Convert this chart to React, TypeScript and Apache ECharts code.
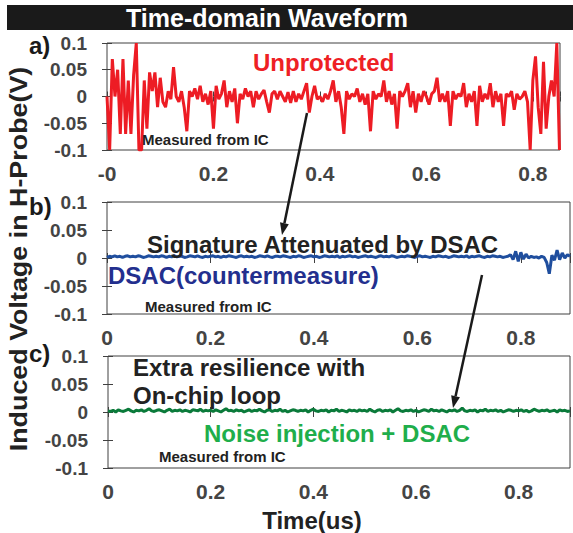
import React, { useEffect, useRef } from 'react';
import * as echarts from 'echarts';

// ---------- data ----------
// Panel a) Unprotected, sampled every 0.005 us (V)
const stepA = 0.005;
const voltA = [
  0.0, -0.1, 0.07, 0.0, 0.05, -0.07, 0.07, -0.07, 0.03, -0.07,
  0.04, 0.1, -0.1, -0.1, 0.03, -0.06, 0.045, 0.01, 0.045, -0.02,
  0.035, -0.01, -0.02, 0.01, -0.005, 0.055, 0.0, -0.01, 0.01, -0.02,
  -0.065, 0.01, 0.0, 0.015, -0.005, 0.02, -0.01, 0.005, -0.015, 0.01,
  -0.06, 0.02, -0.005, 0.005, 0.03, -0.02, 0.01, -0.01, 0.015, -0.05,
  0.005, -0.005, 0.015, 0.0, 0.01, -0.02, 0.01, -0.005, 0.005, 0.012,
  -0.01, -0.03, 0.005, 0.01, -0.005, 0.01, 0.0, -0.01, 0.008, -0.012,
  0.01, -0.01, 0.005, -0.005, 0.01, 0.025, -0.03, 0.0, 0.02, -0.005,
  0.0, -0.01, 0.005, -0.005, 0.01, 0.03, -0.01, 0.01, -0.02, -0.07,
  0.01, -0.005, 0.005, 0.0, 0.015, -0.01, 0.005, -0.015, 0.005, -0.065,
  0.01, -0.005, 0.005, 0.0, 0.03, -0.01, 0.01, -0.015, 0.005, -0.06,
  0.01, 0.0, 0.01, 0.025, -0.02, 0.01, -0.03, 0.005, -0.01, 0.01,
  0.0, -0.015, 0.005, 0.01, 0.035, -0.01, 0.005, -0.01, 0.01, -0.055,
  0.01, -0.005, 0.005, 0.0, 0.025, -0.02, 0.005, -0.01, 0.01, -0.055,
  0.02, -0.01, 0.005, -0.005, 0.025, -0.02, 0.01, -0.01, 0.005, -0.055,
  0.005, 0.0, 0.01, -0.025, 0.005, -0.005, 0.0, 0.01, -0.01, -0.1,
  0.03, 0.075, -0.02, -0.07, 0.065, -0.06, 0.0, 0.03, 0.0, 0.1,
  -0.1,
];

// Panel b) DSAC, sampled every 0.005 us (mV)
const stepB = 0.005;
const voltB_mV = [
  1, 3, 2, 4, 2, 3, 1, 3, 4, 2, 3, 2, 4, 3, 1, 2, 4, 3, 2, 3,
  2, 4, 3, 1, 3, 2, 4, 2, 3, 3, 1, 2, 4, 3, 2, 4, 2, 1, 3, 2,
  3, 4, 2, 3, 1, 3, 2, 4, 3, 2, 1, 3, 4, 2, 3, 2, 3, 1, 2, 4,
  3, 2, 4, 2, 1, 3, 3, 2, 4, 3, 2, 1, 3, 2, 4, 3, 1, 2, 3, 4,
  2, 3, 1, 2, 4, 3, 2, 3, 2, 4, 1, 3, 2, 3, 4, 2, 3, 1, 2, 3,
  4, 2, 3, 2, 1, 3, 4, 2, 3, 2, 4, 3, 1, 2, 3, 2, 4, 3, 2, 1,
  3, 4, 2, 3, 2, 1, 3, 2, 4, 3, 2, 3, 1, 2, 4, 3, 2, 3, 2, 4,
  1, 3, 2, 3, 4, 2, 1, 3, 2, 4, 3, 2, 3, 1, 2, 3,
  6, -3, 12, -6, 10, -2, 7, 0, 3, 1, 2, 0, 3, 1, -8, -28, 5, -4, 14, -3,
  9, 0, 6, 3,
];

// Panel c) Noise injection + DSAC, sampled every 0.005 us (mV)
const stepC = 0.005;
const voltC_mV = [
  2, 1, 3, 0, 4, 2, 1, 3, 5, 2, 0, 3, 2, 4, 1, 3, 6, 2, 1, 3,
  4, 2, 0, 3, 5, 1, 3, 2, 4, 1, 3, 2, 0, 4, 3, 2, 5, 1, 3, 2,
  3, 1, 4, 2, 0, 3, 6, 2, 3, 1, 4, 2, 3, 0, 2, 4, 1, 3, 2, 5,
  2, 0, 3, 4, 1, 3, 2, 5, 1, 3, 0, 2, 4, 3, 1, 3, 2, 4, 0, 3,
  5, 2, 1, 3, 2, 4, 0, 3, 2, 5, 1, 3, 2, 0, 4, 2, 3, 1, 4, 2,
  3, 1, 5, 2, 0, 3, 4, 1, 3, 2, 4, 0, 3, 6, 2, 1, 3, 2, 4, 1,
  3, 0, 2, 4, 3, 1, 5, 2, 3, 1, 4, 2, 0, 3, 2, 4, 1, 3, 7, 2,
  1, 3, 2, 4, 0, 3, 2, 5, 1, 3, 2, 4, 1, 3, 0, 2, 4, 3, 1, 3,
  2, 4, 1, 3, 0, 2, 5, 3, 1, 3, 2, 4, 1, 2, 3, 0, 4, 2, 3, 1, 2,
];

const xMaxes = [0.851, 0.895, 0.9];
const xInterval = 0.2;
const yMin = -0.1;
const yMax = 0.1;
const yInterval = 0.05;

const titleText = 'Time-domain Waveform';
const xTitle = 'Time(us)';
const yTitle = 'Induced Voltage in H-Probe(V)';

// ---------- styling ----------
const FONT = "'Liberation Sans', Arial, Helvetica, sans-serif";
const AXIS_COLOR = '#404040';
const LABEL_COLOR = '#444444';
const INK = '#222222';
const lineColors = ['#ed1c24', '#1f4e9e', '#0a7a3a'];

const gridBoxes = [
  { left: 107, top: 43, width: 453, height: 107 },
  { left: 107, top: 202, width: 465, height: 112 },
  { left: 108, top: 356, width: 464, height: 112 },
];

function pairs(values: number[], step: number, scale: number) {
  return values.map((v, i) => [Number((i * step).toFixed(4)), v * scale]);
}

function arrow(x1: number, y1: number, x2: number, y2: number) {
  const dx = x2 - x1;
  const dy = y2 - y1;
  const len = Math.sqrt(dx * dx + dy * dy);
  const ux = dx / len;
  const uy = dy / len;
  const px = -uy;
  const py = ux;
  const headL = 12;
  const headW = 4.5;
  const bx = x2 - ux * headL;
  const by = y2 - uy * headL;
  return [
    {
      type: 'line',
      shape: { x1, y1, x2: bx, y2: by },
      style: { stroke: '#1a1a1a', lineWidth: 2.5 },
      z: 10,
    },
    {
      type: 'polygon',
      shape: {
        points: [
          [x2, y2],
          [bx + px * headW, by + py * headW],
          [bx - px * headW, by - py * headW],
        ],
      },
      style: { fill: '#1a1a1a' },
      z: 10,
    },
  ];
}

function txt(text: string, x: number, y: number, size: number, fill: string, align = 'left', extra: any = {}) {
  return {
    type: 'text',
    x,
    y,
    z: 20,
    ...extra,
    style: {
      text,
      fill,
      font: `bold ${size}px ${FONT}`,
      textAlign: align,
      textVerticalAlign: 'middle',
    },
  };
}

export default function App() {
  const ref = useRef<HTMLDivElement>(null);

  useEffect(() => {
    if (!ref.current) return;
    const chart = echarts.init(ref.current, undefined, { renderer: 'svg' });

    const datasets = [
      pairs(voltA, stepA, 1),
      pairs(voltB_mV, stepB, 0.001),
      pairs(voltC_mV, stepC, 0.001),
    ];

    const xAxes: any[] = [];
    const yAxes: any[] = [];
    gridBoxes.forEach((_, gi) => {
      const xFormatter = (v: number) => {
        const k = Math.round(v / xInterval);
        if (Math.abs(v - k * xInterval) > 1e-6) return '';
        if (gi === 0 && k === 0) return '-0';
        return String(Number((k * xInterval).toFixed(1)));
      };
      const tick = { show: true, inside: true, length: 5, lineStyle: { color: AXIS_COLOR, width: 1 } };
      xAxes.push({
        type: 'value',
        gridIndex: gi,
        position: 'bottom',
        min: 0,
        max: xMaxes[gi],
        interval: xInterval,
        axisLine: { show: false },
        axisTick: tick,
        splitLine: { show: false },
        axisLabel: {
          margin: 13,
          fontSize: 21,
          fontWeight: 'bold',
          fontFamily: FONT,
          color: LABEL_COLOR,
          formatter: xFormatter,
        },
      });
      xAxes.push({
        type: 'value',
        gridIndex: gi,
        position: 'top',
        min: 0,
        max: xMaxes[gi],
        interval: xInterval,
        axisLine: { show: false },
        axisTick: tick,
        splitLine: { show: false },
        axisLabel: { show: false },
      });
      yAxes.push({
        type: 'value',
        gridIndex: gi,
        position: 'left',
        min: yMin,
        max: yMax,
        interval: yInterval,
        axisLine: { show: false },
        axisTick: tick,
        splitLine: { show: false },
        axisLabel: {
          margin: 20,
          fontSize: 19,
          fontWeight: 'bold',
          fontFamily: FONT,
          color: LABEL_COLOR,
          formatter: (v: number) => String(Number(v.toFixed(2))),
        },
      });
      yAxes.push({
        type: 'value',
        gridIndex: gi,
        position: 'right',
        min: yMin,
        max: yMax,
        interval: yInterval,
        axisLine: { show: false },
        axisTick: tick,
        splitLine: { show: false },
        axisLabel: { show: false },
      });
    });

    const series = datasets.map((d, gi) => ({
      type: 'line',
      xAxisIndex: gi * 2,
      yAxisIndex: gi * 2,
      data: d,
      showSymbol: false,
      symbol: 'none',
      clip: true,
      lineStyle: { color: lineColors[gi], width: 3 },
      itemStyle: { color: lineColors[gi] },
      z: 3,
    }));

    const graphic: any[] = [
      {
        type: 'rect',
        shape: { x: 7, y: 5, width: 566, height: 25 },
        style: { fill: '#1a1a1a' },
        z: 5,
      },
      txt(titleText, 267, 18, 25, '#ffffff', 'center'),
      txt('a)', 29, 45, 24, '#1a1a1a'),
      txt('b)', 29, 206, 24, '#1a1a1a'),
      txt('c)', 29, 353, 24, '#1a1a1a'),
      txt('Unprotected', 253, 62, 24, '#ee2024'),
      txt('Measured from IC', 142, 139, 15, INK),
      txt('Signature Attenuated by DSAC', 147, 244, 24, INK),
      txt('DSAC(countermeasure)', 108, 275, 24, '#232f8e'),
      txt('Measured from IC', 145, 306, 15, INK),
      txt('Extra resilience with', 133, 367, 24, INK),
      txt('On-chip loop', 133, 395, 24, INK),
      txt('Noise injection + DSAC', 204, 433, 24, '#1fae4b'),
      txt('Measured from IC', 159, 456, 15, INK),
      txt(xTitle, 312, 520, 24, INK, 'center'),
      txt(yTitle, 19, 259, 24, INK, 'center', { rotation: Math.PI / 2, scaleX: 1.12 }),
      ...arrow(307, 113, 282, 235),
      ...arrow(482, 275, 453, 408),
    ];

    chart.setOption({
      animation: false,
      backgroundColor: '#ffffff',
      grid: gridBoxes.map((g) => ({
        ...g,
        show: true,
        borderColor: AXIS_COLOR,
        borderWidth: 1,
        backgroundColor: 'transparent',
        containLabel: false,
      })),
      xAxis: xAxes,
      yAxis: yAxes,
      series,
      graphic,
    });

    return () => chart.dispose();
  }, []);

  return (
    <div
      ref={ref}
      style={{ position: 'absolute', left: 0, top: 0, width: 573, height: 533, background: '#fff' }}
    />
  );
}
